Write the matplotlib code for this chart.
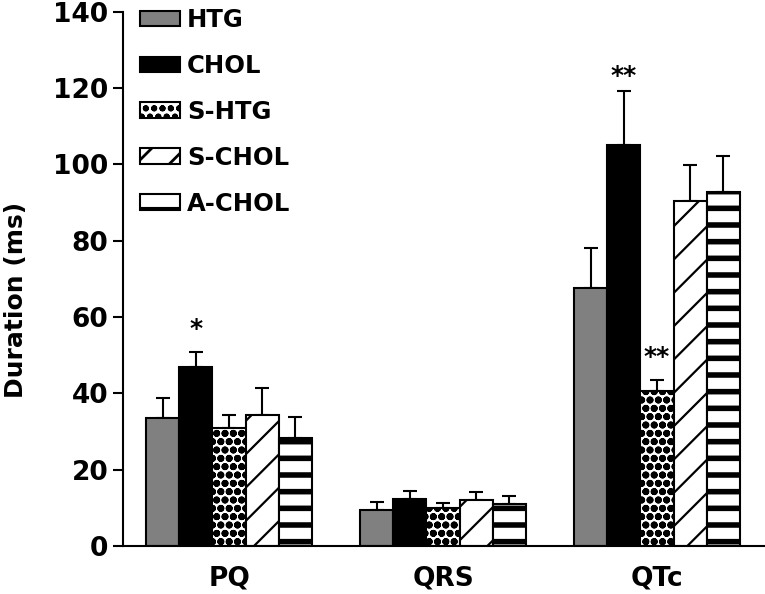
import matplotlib
matplotlib.use("Agg")
import matplotlib.pyplot as plt
import numpy as np

# ECG intervals per group
intervals = ["PQ", "QRS", "QTc"]
groups = ["HTG", "CHOL", "S-HTG", "S-CHOL", "A-CHOL"]

htg = [33.5, 9.4, 67.6]
chol = [46.8, 12.3, 105.0]
s_htg = [30.9, 9.9, 40.5]
s_chol = [34.3, 12.0, 90.3]
a_chol = [28.4, 11.0, 92.7]

htg_err = [5.2, 2.2, 10.5]
chol_err = [4.1, 2.1, 14.2]
s_htg_err = [3.4, 1.3, 3.0]
s_chol_err = [7.0, 2.2, 9.6]
a_chol_err = [5.5, 2.0, 9.6]

# significance marks: (interval index, group index, text)
marks = [(0, 1, "*"), (2, 1, "**"), (2, 2, "**")]
mark_gap = [8, 2, 8]  # points above the error bar

plt.rcParams['font.family'] = ['DejaVu Sans']
plt.rcParams['font.weight'] = 'bold'
plt.rcParams['hatch.linewidth'] = 2.0

values = [htg, chol, s_htg, s_chol, a_chol]
errors = [htg_err, chol_err, s_htg_err, s_chol_err, a_chol_err]
colors = ['#808080', 'black', 'white', 'white', 'white']
hatches = [None, None, 'oo', '/', '-']
hatch_lw = [1.5, 1.5, 2.6, 1.6, 4.0]

fig = plt.figure(figsize=(7.65, 5.94), dpi=100)
ax = fig.add_axes([0.161, 0.081, 0.839, 0.899])

x = np.arange(len(intervals))
w = 0.155
for i in range(len(groups)):
    pos = x + (i - 2) * w
    bars = ax.bar(pos, values[i], w, color=colors[i], edgecolor='black',
                  linewidth=1.5, hatch=hatches[i], label=groups[i], zorder=2)
    for b in bars:
        if hasattr(b, 'set_hatch_linewidth'):
            b.set_hatch_linewidth(hatch_lw[i])
    ax.errorbar(pos, values[i], yerr=[np.zeros(len(intervals)), errors[i]],
                fmt='none', ecolor='black', elinewidth=1.5, capsize=5,
                capthick=1.5, zorder=1)

for (k, g, txt), gap in zip(marks, mark_gap):
    top = values[g][k] + errors[g][k]
    ax.annotate(txt, (x[k] + (g - 2) * w, top), xytext=(0, gap),
                textcoords='offset points', ha='center', va='bottom',
                fontsize=18, fontweight='bold')

ax.set_xlim(-0.495, 2.505)
ax.set_ylim(0, 140)
ax.set_yticks(np.arange(0, 141, 20))
ax.set_xticks(x)
ax.set_xticklabels(intervals, fontsize=19, fontweight='bold')
ax.tick_params(axis='x', length=0, pad=14)
ax.tick_params(axis='y', labelsize=19, length=7, width=1.5, direction='out')
for lab in ax.get_yticklabels():
    lab.set_fontweight('bold')
ax.set_ylabel('Duration (ms)', fontsize=18, fontweight='bold')
ax.yaxis.set_label_coords(-0.148, 0.46)

ax.spines['top'].set_visible(False)
ax.spines['right'].set_visible(False)
ax.spines['left'].set_linewidth(1.5)
ax.spines['bottom'].set_linewidth(1.5)

ax.legend(loc='upper left', bbox_to_anchor=(0.026, 1.007), frameon=False,
          handlelength=1.65, handleheight=0.62, handletextpad=0.28,
          labelspacing=0.9, borderpad=0, borderaxespad=0,
          prop={'weight': 'bold', 'size': 17.5})

fig.savefig('out.png', dpi=100)
